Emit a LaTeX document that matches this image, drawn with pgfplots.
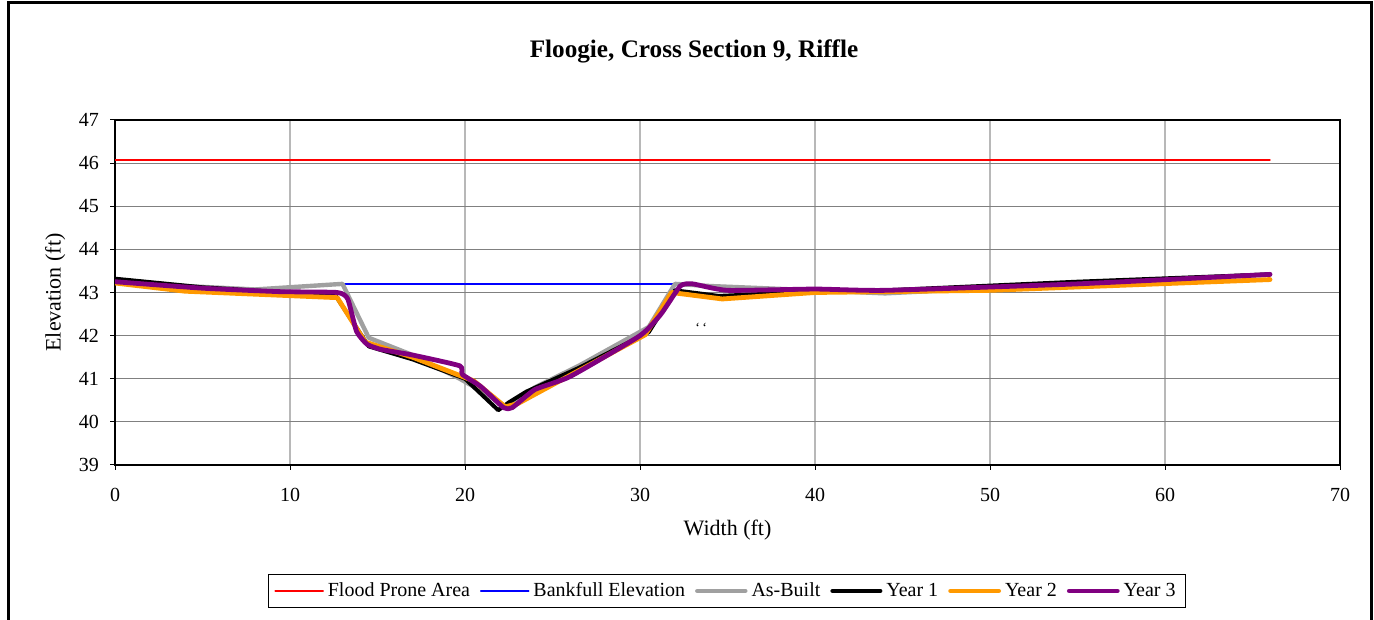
\documentclass[border=0pt]{standalone}
\usepackage{pgfplots}
\pgfplotsset{compat=1.18}
\usepackage{fontspec}
\setmainfont{Liberation Serif}

\definecolor{floodred}{RGB}{255,0,0}
\definecolor{bankblue}{RGB}{0,0,255}
\definecolor{asbuilt}{RGB}{160,160,160}
\definecolor{yrtwo}{RGB}{255,153,0}
\definecolor{yrthree}{RGB}{128,0,128}

\begin{document}
\begin{tikzpicture}
\path[use as bounding box] (0pt,0pt) rectangle (687pt,310pt);
\draw[line width=1.5pt] (4pt,-2pt) -- (4pt,308.7pt) -- (685.7pt,308.7pt) -- (685.7pt,-2pt);
\node[font=\fontsize{12.6}{14}\selectfont\bfseries] at (347pt,284.5pt) {Floogie, Cross Section 9, Riffle};

\begin{axis}[
    at={(57.5pt,77.5pt)}, anchor=south west,
    scale only axis,
    width=612.5pt, height=172.5pt,
    xmin=0, xmax=70, ymin=39, ymax=47,
    xtick distance=10, ytick distance=1,
    tick pos=left, tick align=outside,
    major tick length=2.5pt,
    tick style={black, line width=0.5pt},
    axis line style={black, line width=0.9pt},
    grid=major,
    x grid style={color=black!28, line width=0.6pt},
    y grid style={color=black!50, line width=0.6pt},
    ticklabel style={font=\fontsize{10}{12}\selectfont},
    xticklabel style={yshift=-5.5pt},
    yticklabel style={xshift=-2pt},
    /pgf/number format/assume math mode=true,
    xlabel={Width (ft)}, ylabel={Elevation (ft)},
    label style={font=\fontsize{11}{13}\selectfont},
    xlabel style={yshift=-2.5pt},
    legend columns=6,
    legend style={at={(0.4996,-0.365)}, anchor=center, draw=black,
        line width=0.5pt, font=\fontsize{10}{12}\selectfont,
        /tikz/every even column/.append style={column sep=3pt},
        inner ysep=2pt, inner xsep=3pt},
    legend image code/.code={\draw[#1] (0pt,0pt) -- (24pt,0pt);},
    every axis plot/.append style={line join=round, line cap=round},
]
\addplot[floodred, line width=0.7pt] coordinates {(0,46.07) (66,46.07)};
\addlegendentry{Flood Prone Area}
\addplot[bankblue, line width=0.7pt] coordinates {(13.0,43.2) (32.5,43.2)};
\addlegendentry{Bankfull Elevation}
\addplot[asbuilt, line width=2.2pt] coordinates {
    (0,43.3) (4,43.15) (8,43.07) (13,43.2) (14.5,41.95) (17,41.55) (19.7,41.0)
    (21,40.7) (22.3,40.35) (24,40.8) (26.5,41.3) (30.5,42.2) (32,43.2) (34,43.15)
    (40,43.05) (44,42.98) (50,43.1) (66,43.42)};
\addlegendentry{As-Built}
\addplot[black, line width=2.0pt] coordinates {
    (0,43.32) (5,43.12) (12.6,42.93) (14.5,41.75) (17,41.45) (20,41.0) (21.9,40.27)
    (22.5,40.45) (23.5,40.7) (26.5,41.25) (30.5,42.08) (32,43.05) (34.5,42.92)
    (40,43.02) (44,43.05) (55,43.25) (66,43.42)};
\addlegendentry{Year 1}
\addplot[yrtwo, line width=2.4pt] coordinates {
    (0,43.22) (4,43.03) (12.7,42.88) (14.3,41.85) (17,41.5) (20.5,40.95) (22.3,40.35)
    (23,40.42) (24.5,40.75) (30.3,42.02) (31.8,43.0) (34.7,42.85) (40,43.0)
    (50,43.05) (66,43.3)};
\addlegendentry{Year 2}
\addplot[yrthree, line width=2.4pt, smooth, tension=0.3] coordinates {
    (0,43.25) (5,43.1) (9.4,43.02) (12.7,43.0) (13.3,42.85) (13.8,42.1) (14.4,41.8)
    (15.2,41.68) (17,41.55) (19.7,41.3) (19.85,41.1) (20.9,40.82) (22.2,40.33)
    (22.7,40.33) (24,40.75) (26,41.05) (30,42.0) (31.2,42.5) (32.3,43.15) (33,43.2)
    (35,43.05) (40,43.08) (44,43.05) (55,43.2) (66,43.42)};
\addlegendentry{Year 3}
\node[font=\fontsize{7}{8}\selectfont] at (axis cs:33.5,42.17) {`\,`};
\end{axis}
\end{tikzpicture}
\end{document}
